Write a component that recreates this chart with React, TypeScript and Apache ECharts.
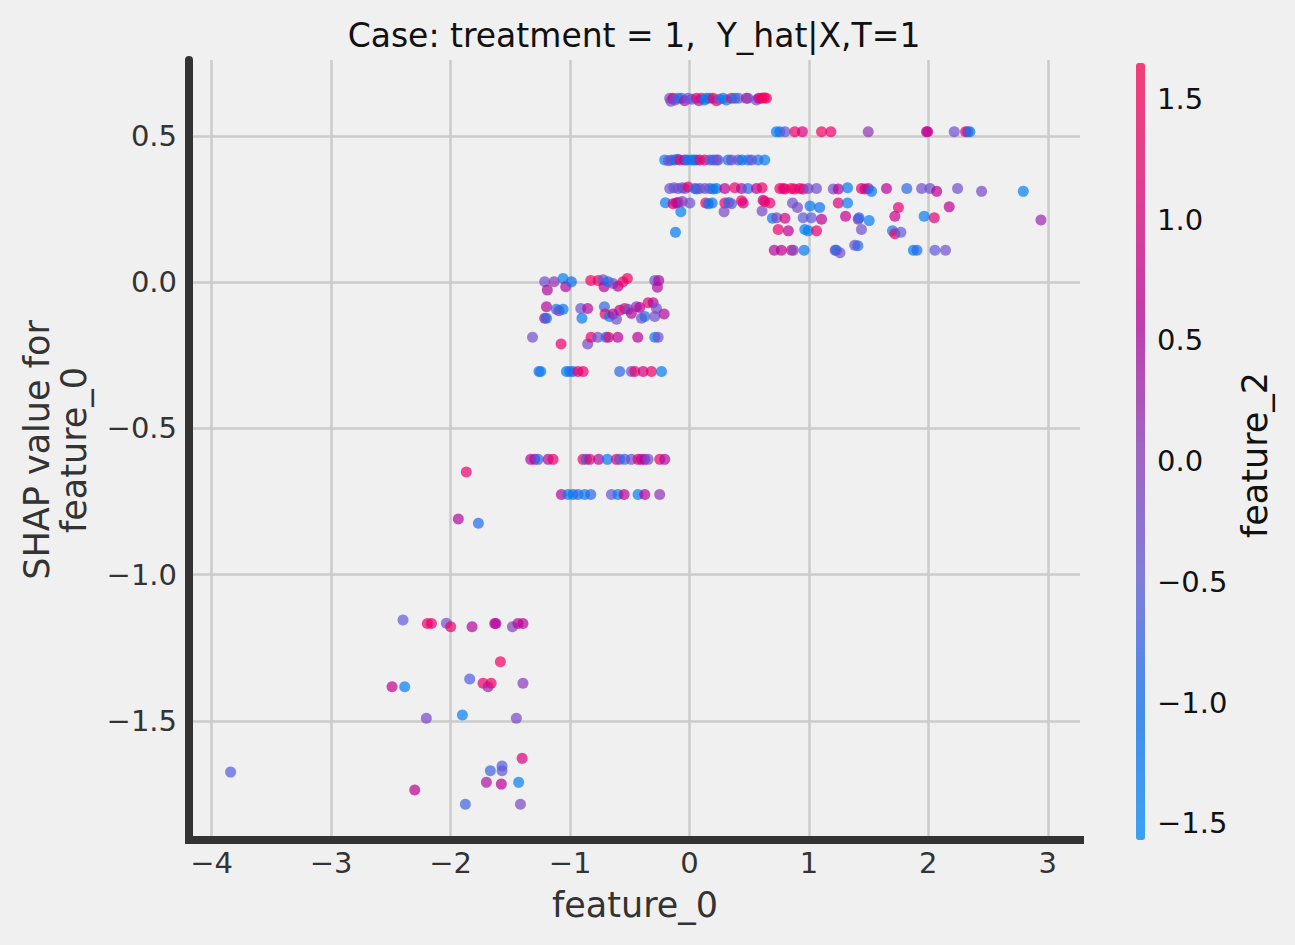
import React, { useEffect, useRef } from "react";
import * as echarts from "echarts";

// Each point: [feature_0, SHAP value for feature_0, feature_2]
const bandTop: number[][] = [
  [-0.165, 0.628, -0.3], [-0.155, 0.618, -0.2], [-0.137, 0.628, 0.9], [-0.12, 0.622, -0.3],
  [-0.095, 0.628, -0.3], [-0.067, 0.628, -1.2], [-0.04, 0.62, 0.4], [-0.011, 0.628, -0.3],
  [0.02, 0.625, -0.5], [0.059, 0.628, 1.3], [0.08, 0.62, 0.2], [0.1, 0.628, 1.1],
  [0.125, 0.622, -1.0], [0.142, 0.628, -1.3], [0.17, 0.628, -1.1], [0.198, 0.628, 1.2],
  [0.226, 0.62, 1.4], [0.25, 0.625, -0.5], [0.282, 0.628, -1.2], [0.31, 0.622, -1.3],
  [0.352, 0.628, 1.2], [0.38, 0.628, -1.1], [0.41, 0.628, -0.6], [0.477, 0.628, 1.0],
  [0.49, 0.628, -0.2], [0.561, 0.622, -0.3], [0.58, 0.628, 0.6], [0.603, 0.628, 1.3],
  [0.625, 0.63, 1.5], [0.645, 0.628, 1.4],
];

const bandHigh: number[][] = [
  [0.728, 0.514, -1.3], [0.757, 0.514, -1.2], [0.8, 0.514, -0.4], [0.882, 0.514, 1.3],
  [0.946, 0.514, 1.0], [1.106, 0.514, 1.4], [1.184, 0.514, 1.2], [1.497, 0.514, 0.1],
  [1.985, 0.514, 0.6], [1.995, 0.514, 0.7], [2.217, 0.514, -0.3], [2.312, 0.514, 1.2],
  [2.33, 0.514, 0.2], [2.348, 0.514, -1.3],
];

const bandUpper: number[][] = [
  [-0.207, 0.417, -1.3], [-0.175, 0.415, -0.3], [-0.151, 0.417, -0.3], [-0.123, 0.417, -1.1],
  [-0.1, 0.42, -0.8], [-0.081, 0.417, 1.3], [-0.039, 0.417, 0.6], [-0.02, 0.417, -1.2],
  [0.017, 0.417, -1.2], [0.04, 0.417, -0.9], [0.059, 0.417, -1.2], [0.087, 0.417, 1.3],
  [0.128, 0.417, 1.2], [0.17, 0.417, -0.3], [0.2, 0.417, -1.0], [0.226, 0.417, -0.2],
  [0.24, 0.417, -0.4], [0.324, 0.417, -1.2], [0.352, 0.417, -0.3], [0.408, 0.417, -0.3],
  [0.44, 0.417, -1.1], [0.491, 0.417, -1.3], [0.52, 0.417, -0.3], [0.575, 0.417, -0.8],
  [0.631, 0.417, -1.3],
];

const bandMid: number[][] = [
  [-0.165, 0.32, -0.3], [-0.13, 0.322, -0.4], [-0.095, 0.32, -0.3], [-0.06, 0.322, -0.2],
  [-0.039, 0.32, -0.3], [-0.011, 0.325, 1.3], [0.045, 0.32, -0.3], [0.06, 0.318, -1.0],
  [0.087, 0.32, -0.3], [0.13, 0.32, -0.4], [0.17, 0.32, -0.3], [0.198, 0.318, -1.2],
  [0.226, 0.32, -1.1], [0.296, 0.32, 0.7], [0.38, 0.322, 1.2], [0.436, 0.32, 0.5],
  [0.49, 0.32, -0.8], [0.561, 0.32, 0.6], [0.608, 0.322, 1.3], [0.757, 0.32, 1.4],
  [0.785, 0.32, 1.3], [0.8, 0.318, 1.1], [0.854, 0.32, 1.4], [0.88, 0.318, 1.2],
  [0.924, 0.32, 1.3], [0.952, 0.318, 1.1], [0.994, 0.32, -0.3], [1.064, 0.32, -0.3],
  [1.204, 0.318, -0.3], [1.246, 0.318, 0.6], [1.324, 0.322, -1.2], [1.44, 0.32, 1.3],
  [1.47, 0.318, 0.8], [1.497, 0.32, 0.4], [1.525, 0.31, -1.2], [1.65, 0.32, 0.6],
  [1.82, 0.32, -0.8], [1.944, 0.32, -0.3], [2.014, 0.32, -0.3], [2.07, 0.31, 0.6],
  [2.245, 0.32, -0.3], [2.446, 0.31, -0.2], [2.795, 0.31, -1.3],
];

const bandLow: number[][] = [
  [-0.201, 0.271, -1.3], [-0.137, 0.268, 1.2], [-0.11, 0.27, 0.8], [-0.095, 0.272, 0.5],
  [-0.06, 0.275, 0.0], [-0.072, 0.24, -1.3], [0.003, 0.27, -0.3], [0.136, 0.27, 1.3],
  [0.159, 0.268, -1.2], [0.19, 0.27, -1.1], [0.296, 0.27, 1.2], [0.33, 0.272, -1.0],
  [0.352, 0.268, -0.3], [0.29, 0.24, -0.2], [0.436, 0.278, 1.4], [0.45, 0.27, 1.0],
  [0.608, 0.243, -0.2], [0.617, 0.28, 0.6], [0.63, 0.275, 1.3], [0.673, 0.27, 1.2],
  [0.695, 0.218, -1.2], [0.73, 0.22, -0.2], [0.8, 0.218, 0.9], [0.743, 0.18, 1.2],
  [0.828, 0.175, 0.6], [0.863, 0.27, -0.3], [0.905, 0.255, -0.2], [0.952, 0.22, -0.5],
  [1.01, 0.26, -1.2], [1.02, 0.22, -0.5], [1.09, 0.255, -1.1], [1.106, 0.215, 0.6],
  [0.966, 0.18, -1.3], [0.994, 0.175, -1.3], [1.064, 0.175, 1.2], [1.246, 0.27, 1.0],
  [1.324, 0.27, -1.3], [1.307, 0.225, 0.7], [1.413, 0.215, 0.3], [1.42, 0.22, -0.9],
  [1.505, 0.21, -1.3], [1.44, 0.18, -0.3], [1.75, 0.255, 1.1], [1.72, 0.225, 0.8],
  [1.7, 0.175, -1.3], [1.72, 0.165, 1.3], [1.77, 0.17, -0.5], [1.965, 0.225, -1.3],
  [2.05, 0.22, 1.1], [2.175, 0.257, 0.6], [2.943, 0.212, 0.2], [-0.117, 0.17, -1.2],
];

const bandFloor: number[][] = [
  [0.71, 0.109, 0.5], [0.77, 0.109, 0.6], [0.854, 0.109, 1.2], [0.87, 0.109, -0.2],
  [0.96, 0.109, -1.2], [1.22, 0.109, 0.1], [1.23, 0.109, -1.2], [1.26, 0.1, -0.3],
  [1.384, 0.126, -0.3], [1.41, 0.124, -0.8], [1.875, 0.109, -1.3], [1.905, 0.109, -0.9],
  [2.055, 0.109, -0.5], [2.144, 0.109, -0.3],
];

const bandZero: number[][] = [
  [-1.212, 0.001, -0.3], [-1.19, -0.027, 0.5], [-1.133, 0.001, 0.1], [-1.058, 0.012, -1.3],
  [-1.036, -0.016, 0.5], [-0.988, 0.001, -1.0], [-0.826, 0.005, 1.4], [-0.765, 0.005, 1.3],
  [-0.723, 0.008, -0.3], [-0.715, -0.016, 0.6], [-0.681, 0.001, -1.1], [-0.64, -0.005, -0.3],
  [-0.598, -0.014, 0.6], [-0.556, 0.001, 1.3], [-0.52, 0.012, 1.4], [-0.29, 0.005, -0.3],
  [-0.257, 0.005, 0.5], [-0.268, -0.018, 0.5],
];

const bandDip: number[][] = [
  [-1.197, -0.084, 0.5], [-1.212, -0.124, 0.5], [-1.197, -0.124, -0.9], [-1.114, -0.093, -1.3],
  [-1.092, -0.098, 0.0], [-1.058, -0.093, -1.2], [-0.9, -0.124, -1.3], [-0.91, -0.09, -0.4],
  [-0.852, -0.09, 0.5], [-0.712, -0.084, -0.8], [-0.706, -0.109, 1.3], [-0.67, -0.118, -1.3],
  [-0.64, -0.109, 0.5], [-0.611, -0.127, -0.3], [-0.584, -0.096, 0.6], [-0.542, -0.09, 1.3],
  [-0.514, -0.093, -0.3], [-0.486, -0.107, 0.5], [-0.444, -0.084, 0.1], [-0.416, -0.087, 0.6],
  [-0.402, -0.124, -0.4], [-0.374, -0.118, -0.8], [-0.346, -0.071, 1.2], [-0.304, -0.071, 0.5],
  [-0.29, -0.118, -0.3], [-0.276, -0.09, -0.3], [-0.212, -0.109, 0.5],
];

const bandNeg2: number[][] = [
  [-1.314, -0.189, -0.3], [-1.075, -0.212, 1.3], [-0.852, -0.212, -0.2], [-0.824, -0.189, 1.3],
  [-0.768, -0.189, -0.3], [-0.698, -0.189, -1.2], [-0.678, -0.189, 1.2], [-0.6, -0.189, 0.6],
  [-0.433, -0.189, 0.6], [-0.29, -0.189, -1.3], [-0.262, -0.189, -0.3],
];

const bandNeg3: number[][] = [
  [-1.26, -0.306, -0.8], [-1.245, -0.306, -1.3], [-1.03, -0.306, -1.3], [-1.003, -0.306, -1.2],
  [-0.975, -0.306, -0.8], [-0.933, -0.306, 1.3], [-0.89, -0.306, 1.2], [-0.584, -0.306, -0.8],
  [-0.486, -0.306, -0.3], [-0.458, -0.306, 1.3], [-0.388, -0.306, 0.9], [-0.318, -0.306, 1.3],
  [-0.234, -0.306, -1.3],
];

const bandNeg6: number[][] = [
  [-1.329, -0.606, 0.5], [-1.295, -0.606, 0.6], [-1.267, -0.606, -0.8], [-1.183, -0.606, 0.5],
  [-1.142, -0.606, 1.3], [-0.891, -0.606, 1.3], [-0.863, -0.606, -0.8], [-0.835, -0.606, 1.2],
  [-0.76, -0.606, 0.5], [-0.687, -0.606, -1.2], [-0.611, -0.606, 1.2], [-0.584, -0.606, -0.3],
  [-0.542, -0.606, -0.8], [-0.486, -0.606, -0.3], [-0.43, -0.606, 1.2], [-0.402, -0.606, 0.5],
  [-0.374, -0.606, 0.6], [-0.346, -0.606, -0.3], [-0.249, -0.606, 1.2], [-0.207, -0.606, 0.5],
];

const bandNeg7: number[][] = [
  [-1.072, -0.726, 0.5], [-1.016, -0.726, -1.3], [-0.975, -0.726, -1.2], [-0.933, -0.726, -0.8],
  [-0.877, -0.726, -1.3], [-0.826, -0.726, -0.8], [-0.653, -0.726, -0.4], [-0.598, -0.726, -1.3],
  [-0.547, -0.726, 0.7], [-0.43, -0.726, -1.3], [-0.374, -0.726, 0.6], [-0.249, -0.726, 0.1],
];

const stragglers: number[][] = [
  [-1.868, -0.649, 1.2], [-1.935, -0.81, 0.5], [-1.767, -0.824, -0.9],
];

const bandDeep: number[][] = [
  [-2.398, -1.155, -0.5], [-2.194, -1.167, 1.3], [-2.16, -1.167, 1.2], [-2.035, -1.166, -0.3],
  [-1.999, -1.178, 1.3], [-1.82, -1.178, 0.5], [-1.63, -1.167, 0.6], [-1.62, -1.167, 0.5],
  [-1.482, -1.178, -0.1], [-1.436, -1.167, 0.5], [-1.394, -1.167, 0.6], [-1.583, -1.298, 1.4],
  [-1.84, -1.357, -0.6], [-1.728, -1.371, 1.3], [-1.686, -1.383, 0.2], [-1.66, -1.371, 1.3],
  [-1.394, -1.371, 0.0], [-2.49, -1.383, 0.7], [-2.384, -1.383, -1.3], [-2.203, -1.491, -0.2],
  [-1.901, -1.48, -1.3], [-1.449, -1.491, -0.2], [-1.401, -1.628, 1.0], [-1.569, -1.654, -0.6],
  [-1.667, -1.67, -0.7], [-1.569, -1.67, -0.4], [-1.7, -1.71, 0.4], [-1.575, -1.716, 0.6],
  [-1.43, -1.71, -1.3], [-2.3, -1.736, 0.6], [-1.876, -1.785, -0.7], [-1.415, -1.785, -0.2],
  [-3.842, -1.675, -0.6],
];

const xTicks = [-4, -3, -2, -1, 0, 1, 2, 3];
const yTicks = [-1.5, -1.0, -0.5, 0.0, 0.5];
const colorTicks = [-1.5, -1.0, -0.5, 0.0, 0.5, 1.0, 1.5];
const colorMin = -1.569;
const colorMax = 1.649;

// red_blue style colour ramp (translucent, as the points are drawn with alpha)
const ramp = [
  "rgba(0,139,250,0.7)",
  "rgba(8,112,238,0.7)",
  "rgba(94,90,217,0.7)",
  "rgba(139,56,183,0.7)",
  "rgba(184,0,153,0.7)",
  "rgba(229,0,117,0.7)",
  "rgba(255,0,81,0.7)",
];

const FONT = "DejaVu Sans";
const minus = (s: string) => s.replace("-", "\u2212");

const GRID = { left: 189, right: 215, top: 60, bottom: 105 };
const CB = { left: 1136, top: 63, width: 9, height: 777 };

export default function App() {
  const ref = useRef<HTMLDivElement>(null);

  useEffect(() => {
    if (!ref.current) return;
    const chart = echarts.init(ref.current, undefined, { renderer: "svg" });

    const points = [
      ...bandTop, ...bandHigh, ...bandUpper, ...bandMid, ...bandLow, ...bandFloor,
      ...bandZero, ...bandDip, ...bandNeg2, ...bandNeg3, ...bandNeg6, ...bandNeg7,
      ...stragglers, ...bandDeep,
    ];

    const cbY = (v: number) =>
      CB.top + ((colorMax - v) / (colorMax - colorMin)) * CB.height;

    const colorLabels = colorTicks.map((v) => ({
      type: "text",
      x: CB.left + CB.width + 12,
      y: cbY(v),
      style: {
        text: minus(v.toFixed(1)),
        fill: "#111",
        font: `29px '${FONT}'`,
        textAlign: "left",
        textVerticalAlign: "middle",
      },
    }));

    chart.setOption({
      animation: false,
      backgroundColor: "#f0f0f0",
      textStyle: { fontFamily: FONT },
      grid: { ...GRID, containLabel: false, outerBoundsMode: "none" },
      xAxis: {
        type: "value",
        min: -4.19,
        max: 3.27,
        axisLine: {
          show: true,
          onZero: false,
          lineStyle: { color: "#333", width: 8, cap: "square" },
        },
        axisTick: { show: false, customValues: xTicks },
        axisLabel: {
          customValues: xTicks,
          formatter: (v: number) => minus(String(v)),
          color: "#333",
          fontSize: 29,
          fontFamily: FONT,
          margin: 8,
        },
        splitLine: { show: true, lineStyle: { color: "#cbcbcb", width: 2.5 } },
      },
      yAxis: {
        type: "value",
        min: -1.907,
        max: 0.759,
        axisLine: { show: true, onZero: false, lineStyle: { color: "#333", width: 8 } },
        axisTick: { show: false, customValues: yTicks },
        axisLabel: {
          customValues: yTicks,
          formatter: (v: number) => minus(v.toFixed(1)),
          color: "#333",
          fontSize: 29,
          fontFamily: FONT,
          margin: 12,
        },
        splitLine: { show: true, lineStyle: { color: "#cbcbcb", width: 2.5 } },
      },
      visualMap: {
        type: "continuous",
        min: colorMin,
        max: colorMax,
        dimension: 2,
        seriesIndex: 0,
        orient: "vertical",
        left: CB.left,
        top: CB.top,
        itemWidth: CB.width,
        itemHeight: CB.height,
        padding: 0,
        text: null,
        calculable: false,
        hoverLink: false,
        inRange: { color: ramp },
      },
      series: [
        {
          type: "scatter",
          data: points,
          symbolSize: 11,
          itemStyle: { opacity: 1 },
        },
      ],
      graphic: [
        {
          type: "text",
          x: 634,
          y: 35,
          style: {
            text: "Case: treatment = 1,  Y_hat|X,T=1",
            fill: "#111",
            font: `33px '${FONT}'`,
            textAlign: "center",
            textVerticalAlign: "middle",
          },
        },
        {
          type: "text",
          x: 635,
          y: 905,
          style: {
            text: "feature_0",
            fill: "#333",
            font: `35px '${FONT}'`,
            textAlign: "center",
            textVerticalAlign: "middle",
          },
        },
        {
          type: "text",
          x: 55,
          y: 450,
          rotation: Math.PI / 2,
          style: {
            text: "SHAP value for\nfeature_0",
            fill: "#333",
            font: `35px '${FONT}'`,
            lineHeight: 37,
            textAlign: "center",
            textVerticalAlign: "middle",
          },
        },
        {
          type: "text",
          x: 1255,
          y: 455,
          rotation: Math.PI / 2,
          style: {
            text: "feature_2",
            fill: "#111",
            font: `35px '${FONT}'`,
            textAlign: "center",
            textVerticalAlign: "middle",
          },
        },
        ...colorLabels,
      ],
    });

    return () => chart.dispose();
  }, []);

  return (
    <div
      ref={ref}
      style={{ position: "absolute", left: 0, top: 0, width: 1295, height: 945 }}
    />
  );
}
